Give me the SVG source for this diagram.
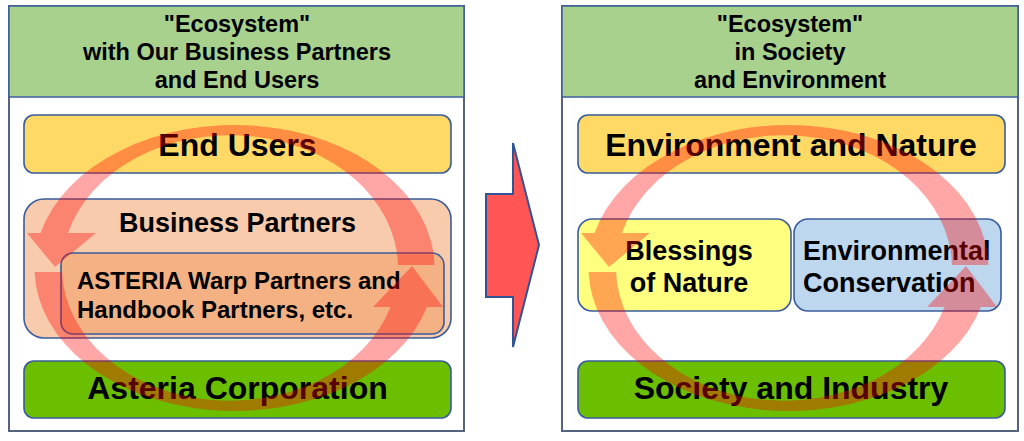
<svg xmlns="http://www.w3.org/2000/svg" width="1024" height="441" viewBox="0 0 1024 441">
<defs>
<style>
.panel{fill:#ffffff;stroke:#56637c;stroke-width:2}
.hdr{fill:#a9d18e;stroke:#3f5f9f;stroke-width:1.5}
.box{stroke:#3a5c9c;stroke-width:1.6}
.t{font-family:"Liberation Sans",Arial,sans-serif;font-weight:bold;fill:#000;text-anchor:middle}
.h{font-size:23.5px}
.big{font-size:32px}
.mid{font-size:27px}
.sm{font-size:24px;text-anchor:start}
.ls{text-anchor:start}
.ring{fill:#ff0000;fill-opacity:0.35}
</style>
<g id="ringShape">
<path class="ring" d="M 434.46,265 A 200 143 0 0 0 40.58,233 L 27,233 L 55,267 L 96,233 L 68,233 A 168 133 0 0 1 397.96,265 Z"/>
<path class="ring" d="M 34.58,272 A 200 143 0 0 0 426.92,307 L 443,307 L 412,266 L 373,307 L 390.5,307 A 168 133 0 0 1 62.08,272 Z"/>
</g>
</defs>
<rect width="1024" height="441" fill="#ffffff"/>

<g id="left-panel">
<rect class="panel" x="9" y="6" width="455" height="425"/>
<rect class="hdr" x="9" y="6" width="455" height="91"/>
<text class="t h" x="237" y="32">"Ecosystem"</text>
<text class="t h" x="237" y="60">with Our Business Partners</text>
<text class="t h" x="237" y="88">and End Users</text>
</g>

<g id="end-users">
<rect class="box" x="24" y="115" width="427" height="58" rx="10" fill="#ffd966"/>
<text class="t big" x="237.5" y="156">End Users</text>
</g>

<g id="business-partners">
<rect class="box" x="24" y="199" width="427" height="139" rx="20" fill="#f8cbad"/>
<text class="t mid" x="237.5" y="232">Business Partners</text>
</g>

<g id="asteria-partners">
<rect class="box" x="61" y="253" width="383" height="81" rx="12" fill="#f4b183"/>
<text class="t sm" x="77" y="289">ASTERIA Warp Partners and</text>
<text class="t sm" x="77" y="318">Handbook Partners, etc.</text>
</g>

<g id="asteria-corp">
<rect class="box" x="24" y="361" width="427" height="57" rx="10" fill="#6cbe00"/>
<text class="t big" x="237.5" y="399">Asteria Corporation</text>
</g>

<g id="right-panel">
<rect class="panel" x="562" y="6" width="456" height="425"/>
<rect class="hdr" x="562" y="6" width="456" height="91"/>
<text class="t h" x="790" y="32">"Ecosystem"</text>
<text class="t h" x="790" y="60">in Society</text>
<text class="t h" x="790" y="88">and Environment</text>
</g>

<g id="environment-nature">
<rect class="box" x="578" y="115" width="427" height="58" rx="10" fill="#ffd966"/>
<text class="t big" x="791" y="156">Environment and Nature</text>
</g>

<g id="blessings">
<rect class="box" x="578" y="219" width="213" height="92" rx="14" fill="#ffff80"/>
<text class="t mid" x="689" y="260">Blessings</text>
<text class="t mid" x="689" y="292">of Nature</text>
</g>

<g id="conservation">
<rect class="box" x="794" y="219" width="207" height="92" rx="14" fill="#bdd7ee"/>
<text class="t mid ls" x="803" y="260">Environmental</text>
<text class="t mid ls" x="803" y="292">Conservation</text>
</g>

<g id="society-industry">
<rect class="box" x="578" y="361" width="427" height="57" rx="10" fill="#6cbe00"/>
<text class="t big" x="791" y="399">Society and Industry</text>
</g>

<g id="connectors">
<use href="#ringShape"/>
<use href="#ringShape" transform="translate(554,0)"/>
<polygon points="486,194 513,194 513,143 539,245 513,347 513,297 486,297" fill="#ff5555" stroke="#2f5597" stroke-width="2" stroke-linejoin="miter"/>
</g>
</svg>
